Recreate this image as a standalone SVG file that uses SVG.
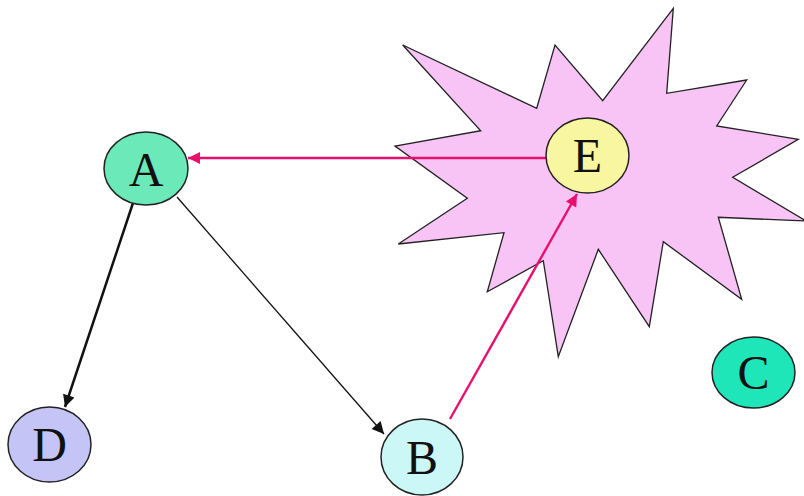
<svg xmlns="http://www.w3.org/2000/svg" width="804" height="496" viewBox="0 0 804 496">
<style>
.n ellipse{stroke:#222;stroke-width:1.5}
.n text{font-family:"Liberation Serif","Times New Roman",serif;font-size:48px;fill:#111;text-anchor:middle}
.pink{stroke:#e8106e;fill:none;stroke-width:2.4}
.blk{stroke:#111;fill:none}
</style>
<defs>
<marker id="ap" viewBox="0 0 10 10" refX="10" refY="5" markerWidth="17" markerHeight="12" orient="auto" markerUnits="userSpaceOnUse"><path d="M0,0L10,5L0,10z" fill="#e8106e"/></marker>
<marker id="ab" viewBox="0 0 10 10" refX="10" refY="5" markerWidth="16" markerHeight="12" orient="auto" markerUnits="userSpaceOnUse"><path d="M0,0L10,5L0,10z" fill="#111"/></marker>
</defs>
<rect width="804" height="496" fill="#fff"/>
<g id="star">
<polygon points="402.7,45 536.7,108.3 555,45 602.7,100.7 673.3,8.3 666.7,93.3 746.7,80 716.7,126 798.3,139.3 732.7,177.3 806,221 718.3,217.3 741.7,299.3 663.3,241.7 649.3,326.7 598.3,249.3 558.3,356.7 543.3,260.7 487.3,291.7 504,232.7 398.3,244 467.3,198.3 395,146 480.7,130.7" fill="#f8c4f6" stroke="#222" stroke-width="1.3"/>
</g>
<g id="connectors">
<line class="pink" x1="546" y1="158" x2="188" y2="158" marker-end="url(#ap)"/>
<line class="pink" x1="450" y1="419" x2="577" y2="194" marker-end="url(#ap)"/>
<line class="blk" x1="133" y1="203" x2="65" y2="407" stroke-width="2.5" marker-end="url(#ab)"/>
<line class="blk" x1="177" y1="197" x2="384" y2="434" stroke-width="1.3" marker-end="url(#ab)"/>
</g>
<g id="A" class="n"><ellipse cx="146" cy="168.5" rx="42" ry="36.5" fill="#6ce9b9"/><text x="146" y="186">A</text></g>
<g id="D" class="n"><ellipse cx="49.5" cy="444.5" rx="41.5" ry="37.5" fill="#c4c4f6"/><text x="49.5" y="461">D</text></g>
<g id="B" class="n"><ellipse cx="422" cy="457" rx="41" ry="38" fill="#cbf7f7"/><text x="422" y="474">B</text></g>
<g id="C" class="n"><ellipse cx="753.5" cy="372.5" rx="41.5" ry="35.5" fill="#1fe6b8"/><text x="753.5" y="389">C</text></g>
<g id="E" class="n"><ellipse cx="587.5" cy="155.5" rx="41.5" ry="37.5" fill="#f8f6a0"/><text x="587.5" y="172">E</text></g>
</svg>
